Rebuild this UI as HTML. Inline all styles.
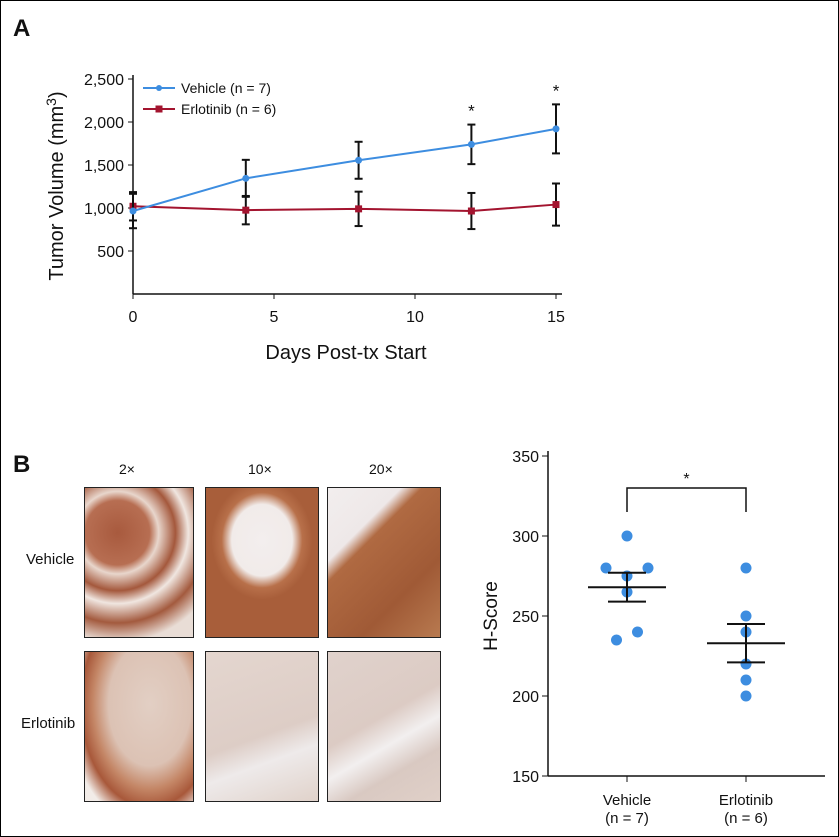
<!DOCTYPE html>
<html><head><meta charset="utf-8"><style>
body{margin:0;background:#fff;font-family:"Liberation Sans",sans-serif}
#wrap{position:relative;width:837px;height:835px;border:1px solid #000;overflow:hidden}
.img{position:absolute;border:1px solid #222}
.lbl{position:absolute;font-size:14px;color:#111}
</style></head><body>
<div id="wrap">
<div class="lbl" style="left:12px;top:14px;font-size:24px;font-weight:bold">A</div>
<div class="lbl" style="left:12px;top:450px;font-size:24px;font-weight:bold">B</div>
<svg id="chartA" width="839" height="420" style="position:absolute;left:0;top:0"></svg>
<div class="lbl" style="left:118px;top:460px">2×</div>
<div class="lbl" style="left:247px;top:460px">10×</div>
<div class="lbl" style="left:368px;top:460px">20×</div>
<div class="lbl" style="left:25px;top:550px;font-size:15px">Vehicle</div>
<div class="lbl" style="left:20px;top:714px;font-size:15px">Erlotinib</div>
<div class="img" style="left:83px;top:486px;width:108px;height:149px;background:radial-gradient(circle at 30% 30%,#a85a3e 0,#b76e52 25%,#e8d6cc 32%,#a4583c 45%,#f0e6e0 55%,#a35a3e 70%,#e9ddd6 85%)"></div>
<div class="img" style="left:204px;top:486px;width:112px;height:149px;background:radial-gradient(ellipse 45% 40% at 50% 35%,#f3eeee 0,#f1ebe9 60%,#b8704a 80%,#a85e3a 100%),#ad633d"></div>
<div class="img" style="left:326px;top:486px;width:112px;height:149px;background:linear-gradient(135deg,#f2eeee 0,#eee8e8 28%,#b06a42 36%,#a05a36 70%,#b87a50 100%)"></div>
<div class="img" style="left:83px;top:650px;width:108px;height:149px;background:radial-gradient(ellipse at 60% 35%,#e2cfc4 0,#dcc2b4 45%,#c48666 62%,#a8583a 75%,#f2ece8 90%)"></div>
<div class="img" style="left:204px;top:650px;width:112px;height:149px;background:linear-gradient(160deg,#e4d6cf 0,#ddcdc6 55%,#eeeaea 70%,#e0d2ca 100%)"></div>
<div class="img" style="left:326px;top:650px;width:112px;height:149px;background:linear-gradient(150deg,#e0d2cc 0,#dccbc4 45%,#f2efef 60%,#d9c9c2 75%,#e0d0c8 100%)"></div>
<svg id="chartB" width="839" height="837" style="position:absolute;left:0;top:0"></svg>
</div>
<script>
const ns="http://www.w3.org/2000/svg";
function mk(p,t,a){const e=document.createElementNS(ns,t);for(const k in a)e.setAttribute(k,a[k]);p.appendChild(e);return e;}
// Chart A data
const days=[0,4,8,12,15];
const vehicleMean=[965,1345,1555,1740,1920];
const vehicleErr=[200,215,215,230,285];
const erloMean=[1020,975,990,965,1040];
const erloErr=[165,165,200,210,245];
const yTicksA=[500,1000,1500,2000,2500];
const yTickLabelsA=["500","1,000","1,500","2,000","2,500"];
const xTicksA=[0,5,10,15];
const sigDays=[12,15];
const A=document.getElementById('chartA');
const xA=d=>132+d*(555-132)/15, yA=v=>293-v*43/500;
let e;
e=mk(A,'line',{x1:132,y1:74,x2:132,y2:293,stroke:'#111','stroke-width':1.5});

e=mk(A,'line',{x1:132,y1:293,x2:561,y2:293,stroke:'#111','stroke-width':1.5});

yTicksA.forEach((v,i)=>{mk(A,'line',{x1:127,x2:132,y1:yA(v),y2:yA(v),stroke:'#111'});
 e=mk(A,'text',{x:123,y:yA(v)+6,'text-anchor':'end','font-size':16,fill:'#111'});e.textContent=yTickLabelsA[i];
 });
xTicksA.forEach(d=>{mk(A,'line',{x1:xA(d),x2:xA(d),y1:293,y2:298,stroke:'#111'});
 e=mk(A,'text',{x:xA(d),y:321,'text-anchor':'middle','font-size':16,fill:'#111'});e.textContent=d;
 });
e=mk(A,'text',{x:345,y:358,'text-anchor':'middle','font-size':20,fill:'#111'});e.textContent='Days Post-tx Start';

e=mk(A,'text',{transform:'translate(62,185) rotate(-90)','text-anchor':'middle','font-size':20,fill:'#111'});
e.innerHTML='Tumor Volume (mm<tspan dy="-7" font-size="14">3</tspan><tspan dy="7">)</tspan>';

function series(mean,err,col,name,sq){
 const g=mk(A,'g',{});
 mk(g,'polyline',{points:days.map((d,i)=>xA(d)+','+yA(mean[i])).join(' '),fill:'none',stroke:col,'stroke-width':2});
 days.forEach((d,i)=>{const x=xA(d),t=yA(mean[i]+err[i]),b=yA(mean[i]-err[i]);
  mk(g,'line',{x1:x,x2:x,y1:t,y2:b,stroke:'#111','stroke-width':2});
  mk(g,'line',{x1:x-4,x2:x+4,y1:t,y2:t,stroke:'#111','stroke-width':2});
  mk(g,'line',{x1:x-4,x2:x+4,y1:b,y2:b,stroke:'#111','stroke-width':2});});
 days.forEach((d,i)=>{if(sq)mk(g,'rect',{x:xA(d)-3.5,y:yA(mean[i])-3.5,width:7,height:7,fill:col});
  else mk(g,'circle',{cx:xA(d),cy:yA(mean[i]),r:3.5,fill:col});});
}
series(erloMean,erloErr,'#a3142f','erlotinib-series',true);
series(vehicleMean,vehicleErr,'#3d8de0','vehicle-series',false);
sigDays.forEach(d=>{const i=days.indexOf(d);e=mk(A,'text',{x:xA(d),y:yA(vehicleMean[i]+vehicleErr[i])-8,'text-anchor':'middle','font-size':17,fill:'#111'});e.textContent='*';
 });
[['Vehicle (n = 7)','#3d8de0',87,false],['Erlotinib (n = 6)','#a3142f',108,true]].forEach(l=>{
 const g=mk(A,'g',{});
 mk(g,'line',{x1:142,x2:174,y1:l[2],y2:l[2],stroke:l[1],'stroke-width':2});
 if(l[3])mk(g,'rect',{x:154.5,y:l[2]-3.5,width:7,height:7,fill:l[1]});else mk(g,'circle',{cx:158,cy:l[2],r:3,fill:l[1]});
 const t=mk(g,'text',{x:180,y:l[2]+5,'font-size':14,fill:'#111'});t.textContent=l[0];});
// Chart B data
const groups=['Vehicle','Erlotinib'];
const groupN=['(n = 7)','(n = 6)'];
const vehicleScores=[300,280,280,275,265,240,235];
const vehicleJitter=[0,-1,1,0,0,0.5,-0.5];
const erloScores=[280,250,240,220,210,200];
const erloJitter=[0,0,0,0,0,0];
const groupMean=[268,233];
const groupSem=[9,12];
const yTicksB=[150,200,250,300,350];
const B=document.getElementById('chartB');
const xB=i=>626+i*119, yB=v=>775-(v-150)*1.6;
e=mk(B,'line',{x1:547,y1:450,x2:547,y2:775,stroke:'#111','stroke-width':1.5});

e=mk(B,'line',{x1:547,y1:775,x2:824,y2:775,stroke:'#111','stroke-width':1.5});

yTicksB.forEach(v=>{mk(B,'line',{x1:541,x2:547,y1:yB(v),y2:yB(v),stroke:'#111'});
 e=mk(B,'text',{x:538,y:yB(v)+6,'text-anchor':'end','font-size':16,fill:'#111'});e.textContent=v;
 });
e=mk(B,'text',{transform:'translate(496,615) rotate(-90)','text-anchor':'middle','font-size':19,fill:'#111'});e.textContent='H-Score';

groups.forEach((g,i)=>{mk(B,'line',{x1:xB(i),x2:xB(i),y1:775,y2:781,stroke:'#111'});
 e=mk(B,'text',{x:xB(i),y:804,'text-anchor':'middle','font-size':15,fill:'#111'});e.textContent=g;
 
 e=mk(B,'text',{x:xB(i),y:822,'text-anchor':'middle','font-size':15,fill:'#111'});e.textContent=groupN[i];
 });
[[vehicleScores,vehicleJitter],[erloScores,erloJitter]].forEach((s,gi)=>{
 s[0].forEach((v,j)=>{e=mk(B,'circle',{cx:xB(gi)+s[1][j]*21,cy:yB(v),r:5.5,fill:'#3d8de0'});
  });
 const x=xB(gi),m=yB(groupMean[gi]),t=yB(groupMean[gi]+groupSem[gi]),b=yB(groupMean[gi]-groupSem[gi]);
 const g=mk(B,'g',{});
 mk(g,'line',{x1:x-39,x2:x+39,y1:m,y2:m,stroke:'#111','stroke-width':2});
 mk(g,'line',{x1:x,x2:x,y1:t,y2:b,stroke:'#111','stroke-width':2});
 mk(g,'line',{x1:x-19,x2:x+19,y1:t,y2:t,stroke:'#111','stroke-width':2});
 mk(g,'line',{x1:x-19,x2:x+19,y1:b,y2:b,stroke:'#111','stroke-width':2});
});
e=mk(B,'polyline',{points:`${xB(0)},${yB(315)} ${xB(0)},${yB(330)} ${xB(1)},${yB(330)} ${xB(1)},${yB(315)}`,fill:'none',stroke:'#111','stroke-width':1.5});

e=mk(B,'text',{x:(xB(0)+xB(1))/2,y:yB(330)-4,'text-anchor':'middle','font-size':16,fill:'#111'});e.textContent='*';

</script>
</body></html>
